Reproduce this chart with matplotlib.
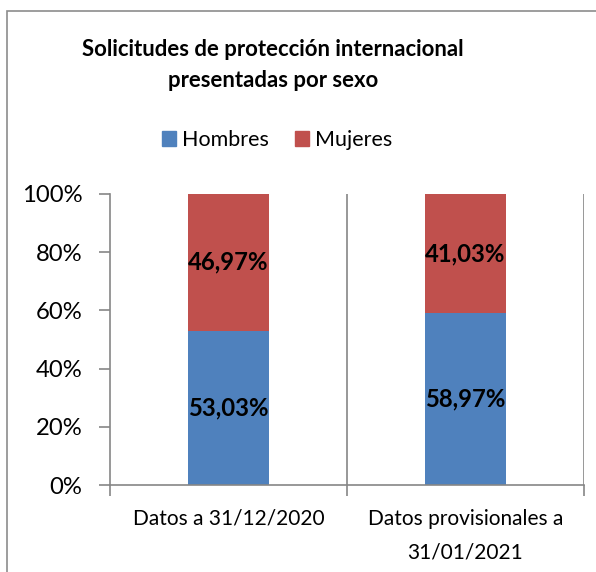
import matplotlib
matplotlib.use("Agg")
import matplotlib.pyplot as plt
from matplotlib.patches import Rectangle, Patch
from matplotlib.ticker import FuncFormatter, FixedLocator

plt.rcParams['font.family'] = ['Lato', 'DejaVu Sans']

categories = ["Datos a 31/12/2020", "Datos provisionales a\n31/01/2021"]
hombres = [53.03, 58.97]
mujeres = [46.97, 41.03]
series_names = ["Hombres", "Mujeres"]
yticks = [0, 20, 40, 60, 80, 100]
title = "Solicitudes de protección internacional\npresentadas por sexo"

W, H = 596, 572
fig = plt.figure(figsize=(W/100, H/100), dpi=100)
blue = "#4F81BD"
red = "#C0504D"
grey = "#868686"

# outer border
fig.patches.append(Rectangle((7/W, 0 - 0.05), 1.2, 1 - 11/H + 0.05, transform=fig.transFigure,
                             fill=False, edgecolor="#8C8C8C", linewidth=1.2))

ax = fig.add_axes([110/W, 1 - 485/H, (584 - 110)/W, (485 - 194)/H])
x = list(range(len(categories)))
bw = 0.34
ax.bar(x, hombres, width=bw, color=blue, label=series_names[0])
ax.bar(x, mujeres, width=bw, bottom=hombres, color=red, label=series_names[1])

for i in x:
    ax.text(i, hombres[i] / 2, f"{hombres[i]:.2f}%".replace(".", ","), ha="center", va="center",
            fontsize=17.2, fontweight="bold", color="black")
    ax.text(i, hombres[i] + mujeres[i] / 2, f"{mujeres[i]:.2f}%".replace(".", ","), ha="center", va="center",
            fontsize=17.2, fontweight="bold", color="black")

ax.set_xlim(-0.5, len(categories) - 0.5)
ax.set_ylim(0, 100)
ax.set_yticks(yticks)
ax.yaxis.set_major_formatter(FuncFormatter(lambda v, p: f"{v:.0f}%"))
ax.tick_params(axis="y", length=8, color=grey, labelsize=17.2, pad=12)

ax.set_xticks(x)
ax.set_xticklabels(categories, fontsize=15, linespacing=1.85)
ax.tick_params(axis="x", which="major", length=0, pad=17)
ax.xaxis.set_minor_locator(FixedLocator([-0.5 + k for k in range(len(categories) + 1)]))
ax.tick_params(axis="x", which="minor", length=8, color=grey, width=1.2)
for b in [0.5 + k for k in range(len(categories))]:
    ax.axvline(b, color=grey, linewidth=1.2, zorder=0)

for s in ["top", "right"]:
    ax.spines[s].set_visible(False)
for s in ["left", "bottom"]:
    ax.spines[s].set_color(grey)
    ax.spines[s].set_linewidth(1.2)
ax.tick_params(axis="y", width=1.2)

fig.text(273/W, 1 - 65/H, title, ha="center", va="center", fontsize=15.9, fontweight="bold",
         linespacing=1.55)

handles = [Patch(color=blue), Patch(color=red)]
fig.legend(handles, series_names, loc="center", bbox_to_anchor=(277/W, 1 - 140/H), ncol=2,
           frameon=False, fontsize=15.5, handlelength=0.65, handleheight=0.65, handletextpad=0.3,
           columnspacing=1.2)

fig.savefig("out.png", dpi=100)
